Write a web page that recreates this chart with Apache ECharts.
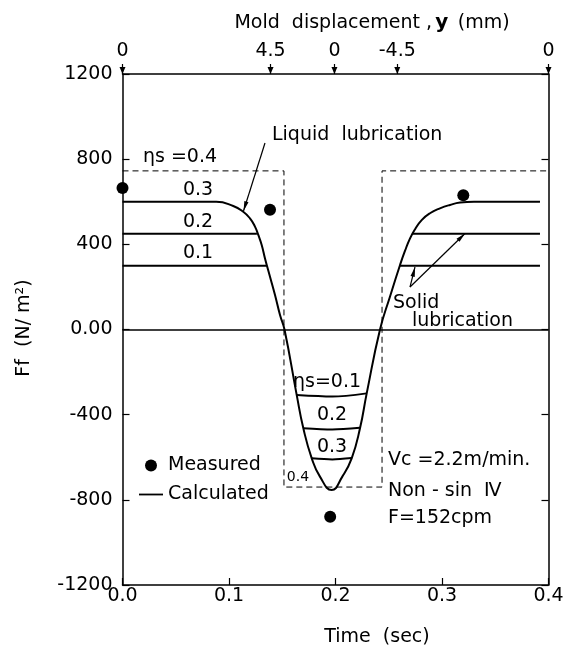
<!DOCTYPE html>
<html>
<head>
<meta charset="utf-8">
<script src="https://cdn.jsdelivr.net/npm/echarts@6/dist/echarts.min.js"></script>
<style>
  html, body { margin: 0; padding: 0; background: #fff; }
  #chart { width: 566px; height: 648px; }
</style>
</head>
<body>
<div id="chart"></div>
<script>
// Calculated friction force, liquid-lubrication envelope (ηs = 0.3 plateaus)
const calcTime  = [0, 0.088, 0.104, 0.1134, 0.1197, 0.1244, 0.1275, 0.1307, 0.1338, 0.1385, 0.1432, 0.1479, 0.1521,
                   0.1636, 0.1698, 0.1777, 0.1854, 0.1964, 0.2064, 0.2152, 0.223, 0.2293,
                   0.2418, 0.2512, 0.2606, 0.2653, 0.270, 0.2746, 0.2809, 0.2887, 0.2981, 0.3075, 0.317, 0.330, 0.392];
const calcForce = [600, 600, 580, 553, 522, 483, 444, 397, 334, 248, 162, 68, 0,
                   -308, -464, -605, -691, -754, -691, -605, -464, -300,
                   0, 155, 303, 370, 428, 470, 514, 546, 569, 585, 596, 600, 600];

// Solid-lubrication plateaus (null separates segments)
const eta02Time  = [0, 0.1262, null, 0.2718, 0.392, null, 0.1698, 0.197, 0.223];
const eta02Force = [450, 450, null, 450, 450, null, -464, -470, -462];
const eta01Time  = [0, 0.1355, null, 0.2606, 0.392, null, 0.1636, 0.197, 0.2293];
const eta01Force = [300, 300, null, 300, 300, null, -308, -315, -300];
const eta03Time  = [0.1777, 0.197, 0.2152];
const eta03Force = [-605, -610, -604];
// ηs = 0.4 step (dashed)
const eta04Time  = [0, 0.1516, 0.1516, 0.2437, 0.2437, 0.4];
const eta04Force = [745, 745, -740, -740, 745, 745];

// Measured points
const measTime  = [0, 0.1385, 0.195, 0.320];
const measForce = [665, 562, -880, 630];

// Mold displacement marks on the top axis
const moldTickTime  = [0, 0.139, 0.199, 0.258, 0.4];
const moldTickLabel = ['0', '4.5', '0', '-4.5', '0'];

const FONT = "'DejaVu Sans', 'Noto Sans CJK JP', sans-serif";
const BLACK = '#000';

function segments(ts, fs) {
  const out = [];
  let cur = [];
  ts.forEach((t, i) => {
    if (t === null) { if (cur.length) out.push(cur); cur = []; }
    else cur.push([t, fs[i]]);
  });
  if (cur.length) out.push(cur);
  return out;
}
function pairs(ts, fs) { return ts.map((t, i) => [t, fs[i]]); }

function lineSeries(name, data, extra) {
  return Object.assign({
    name: name, type: 'line', data: data, symbol: 'none', smooth: 0.3,
    xAxisIndex: 0, yAxisIndex: 0, silent: true,
    itemStyle: { color: BLACK },
    lineStyle: { color: BLACK, width: 2 }, z: 3
  }, extra || {});
}

const series = [];
series.push(lineSeries('Calculated', pairs(calcTime, calcForce), {
  smooth: 0.5,
  markLine: {
    silent: true, symbol: 'none', label: { show: false },
    lineStyle: { color: BLACK, width: 1.5, type: 'solid' },
    data: [{ yAxis: 0 }]
  }
}));
[[eta02Time, eta02Force], [eta01Time, eta01Force], [eta03Time, eta03Force]].forEach(([t, f], k) => {
  segments(t, f).forEach((seg, j) => series.push(lineSeries('level' + k + '_' + j, seg)));
});
series.push(lineSeries('eta04', pairs(eta04Time, eta04Force), {
  smooth: false,
  lineStyle: { color: BLACK, width: 1, type: [6, 4] }, z: 2
}));
series.push({
  name: 'Measured', type: 'scatter', data: pairs(measTime, measForce),
  symbol: 'circle', symbolSize: 12, clip: false, silent: true,
  itemStyle: { color: BLACK, opacity: 1 }, z: 5
});
// arrowheads of the top-axis displacement marks
series.push({
  name: 'moldMarks', type: 'scatter', xAxisIndex: 1, yAxisIndex: 0,
  data: moldTickTime.map(t => [t, 1200]),
  symbol: 'triangle', symbolRotate: 180, symbolSize: [6, 7], symbolOffset: [0, -3.5],
  clip: false, silent: true, itemStyle: { color: BLACK, opacity: 1 }, z: 6
});

function txt(text, x, y, size, align, extra) {
  return Object.assign({
    type: 'text', x: x, y: y, silent: true,
    style: {
      text: text, fill: BLACK, font: size + 'px ' + FONT,
      fontSize: size, fontFamily: FONT,
      align: align || 'center', verticalAlign: 'middle',
      textAlign: align || 'center', textVerticalAlign: 'middle'
    }
  }, extra || {});
}
function arrow(x1, y1, x2, y2) {
  const a = Math.atan2(y2 - y1, x2 - x1), L = 10, w = 0.22;
  return [
    { type: 'line', silent: true, shape: { x1: x1, y1: y1, x2: x2, y2: y2 },
      style: { stroke: BLACK, lineWidth: 1.2 } },
    { type: 'polygon', silent: true,
      shape: { points: [[x2, y2],
                        [x2 - L * Math.cos(a - w), y2 - L * Math.sin(a - w)],
                        [x2 - L * Math.cos(a + w), y2 - L * Math.sin(a + w)]] },
      style: { fill: BLACK } }
  ];
}

const graphics = [
  {
    type: 'text', x: 372, y: 23, silent: true,
    style: {
      text: '{a|Mold  displacement ,} {b|y} {a| (mm)}',
      align: 'center', verticalAlign: 'middle', textAlign: 'center', textVerticalAlign: 'middle',
      rich: {
        a: { fontSize: 19, fontFamily: FONT, fill: BLACK, color: BLACK },
        b: { fontSize: 20, fontFamily: FONT, fontWeight: 'bold', fill: BLACK, color: BLACK }
      }
    }
  },
  txt('Time  (sec)', 377, 637, 19),
  txt('Ff  (N/ m²)', 24, 328, 19, 'center', { rotation: Math.PI / 2 }),
  txt('ηs =0.4', 180, 157, 19),
  txt('0.3', 198, 190, 19),
  txt('0.2', 198, 222, 19),
  txt('0.1', 198, 253, 19),
  txt('Liquid  lubrication', 272, 135, 19, 'left'),
  txt('ηs=0.1', 327, 382, 19),
  txt('0.2', 332, 415, 19),
  txt('0.3', 332, 447, 19),
  txt('0.4', 298, 477, 14),
  txt('Solid', 393, 303, 19, 'left'),
  txt('lubrication', 412, 321, 19, 'left'),
  txt('Vc =2.2m/min.', 388, 460, 19, 'left'),
  txt('Non - sin  Ⅳ', 388, 491, 19, 'left'),
  txt('F=152cpm', 388, 518, 19, 'left')
].concat(arrow(265, 143, 243.5, 211))
 .concat(arrow(410, 287, 415, 267))
 .concat(arrow(410, 287, 465, 233.5));

const axisLine = { show: true, onZero: false, lineStyle: { color: BLACK, width: 1.5 } };

const option = {
  animation: false,
  backgroundColor: '#fff',
  textStyle: { fontFamily: FONT, color: BLACK },
  grid: { left: 122.5, right: 17.5, top: 74, bottom: 63, containLabel: false, outerBoundsMode: 'none' },
  legend: {
    orient: 'vertical', left: 134, top: 451, itemWidth: 24, itemHeight: 12, itemGap: 10,
    selectedMode: false,
    textStyle: { fontSize: 19, fontFamily: FONT, color: BLACK },
    data: [
      { name: 'Measured', icon: 'circle', itemStyle: { color: BLACK, opacity: 1 } },
      { name: 'Calculated', icon: 'path://M0,0L24,0L24,1.8L0,1.8Z', itemStyle: { color: BLACK } }
    ]
  },
  xAxis: [
    {
      type: 'value', position: 'bottom', min: 0, max: 0.4, interval: 0.1,
      axisLine: axisLine,
      axisTick: { show: true, inside: true, length: 7, lineStyle: { color: BLACK, width: 1.2 } },
      axisLabel: { fontSize: 19, fontFamily: FONT, color: BLACK, margin: 2,
                   showMinLabel: true, showMaxLabel: true, formatter: v => v.toFixed(1) },
      splitLine: { show: false }
    },
    {
      type: 'value', position: 'top', min: 0, max: 0.4,
      axisLine: axisLine,
      axisTick: { show: true, inside: false, length: 10, customValues: moldTickTime,
                  lineStyle: { color: BLACK, width: 1.2 } },
      axisLabel: { fontSize: 19, fontFamily: FONT, color: BLACK, margin: 13,
                   customValues: moldTickTime,
                   formatter: (v) => {
                     const k = moldTickTime.findIndex(t => Math.abs(t - v) < 1e-6);
                     return k >= 0 ? moldTickLabel[k] : '';
                   } },
      splitLine: { show: false }
    }
  ],
  yAxis: [
    {
      type: 'value', position: 'left', min: -1200, max: 1200, interval: 400,
      axisLine: axisLine,
      axisTick: { show: true, inside: true, length: 7, lineStyle: { color: BLACK, width: 1.2 } },
      axisLabel: { fontSize: 19, fontFamily: FONT, color: BLACK, margin: 10,
                   formatter: v => (v === 0 ? '0.00' : String(v)) },
      splitLine: { show: false }
    },
    {
      type: 'value', position: 'right', min: -1200, max: 1200, interval: 400,
      axisLine: axisLine,
      axisTick: { show: true, inside: true, length: 7, lineStyle: { color: BLACK, width: 1.2 } },
      axisLabel: { show: false },
      splitLine: { show: false }
    }
  ],
  series: series,
  graphic: graphics
};

const chart = echarts.init(document.getElementById('chart'), null, { renderer: 'canvas' });
chart.setOption(option);
</script>
</body>
</html>
